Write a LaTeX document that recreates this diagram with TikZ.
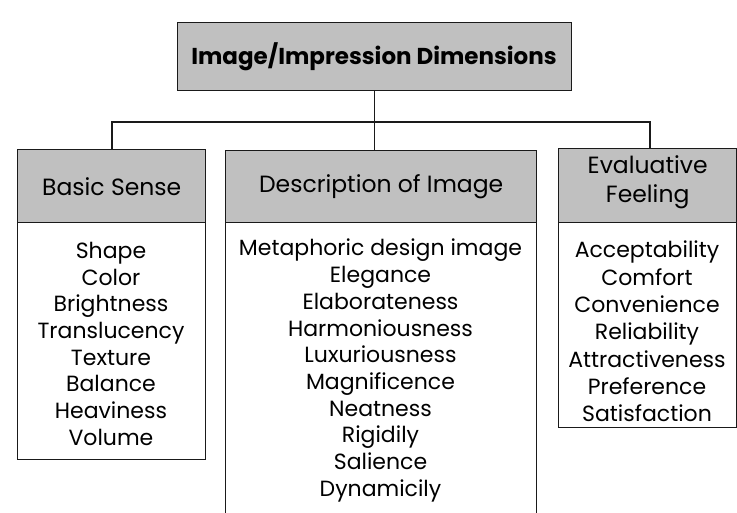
\documentclass[tikz,border=0pt]{standalone}
\usepackage{fontspec}
\setmainfont{Poppins}
\definecolor{hdrgray}{HTML}{C0C0C0}
\definecolor{linecol}{HTML}{1A1A1A}
\begin{document}
\begin{tikzpicture}[x=1pt,y=-1pt,
  box/.style={draw=linecol,line width=1.4pt,rectangle,inner sep=0pt,anchor=north west},
  hdr/.style={box,fill=hdrgray},
  body/.style={box,fill=white},
  hdrtext/.style={font=\fontsize{23.5}{29}\selectfont,align=center,inner sep=0pt},
  bodytext/.style={font=\fontsize{22}{26.7}\selectfont,align=center,inner sep=0pt,anchor=north},
  conn/.style={draw=linecol,line width=1.4pt}]
\useasboundingbox (0,0) rectangle (737,512);
\clip (0,0) rectangle (737,512);
% title
\node[hdr,minimum width=394pt,minimum height=68pt] (title) at (177,22) {};
\node[font=\fontsize{23}{28}\selectfont\bfseries,inner sep=0pt] (titletext) at (374,57) {Image/Impression Dimensions};
% left
\node[hdr,minimum width=188pt,minimum height=73pt] (lefth) at (17,149) {};
\node[body,minimum width=188pt,minimum height=237pt] (leftb) at (17,222) {};
\node[hdrtext] (leftht) at (lefth.center) {Basic Sense};
\node[bodytext] (leftbt) at (111,242) {Shape\\Color\\Brightness\\Translucency\\Texture\\Balance\\Heaviness\\Volume};
% middle
\node[hdr,minimum width=311pt,minimum height=72pt] (midh) at (225,150) {};
\node[body,minimum width=311pt,minimum height=320pt] (midb) at (225,222) {};
\node[hdrtext] (midht) at (midh.center) {Description of Image};
\node[bodytext] (midbt) at (380.5,239) {Metaphoric design image\\Elegance\\Elaborateness\\Harmoniousness\\Luxuriousness\\Magnificence\\Neatness\\Rigidily\\Salience\\Dynamicily};
% right
\node[hdr,minimum width=178pt,minimum height=74pt] (righth) at (558,148) {};
\node[body,minimum width=178pt,minimum height=205pt] (rightb) at (558,222) {};
\node[hdrtext] (rightht) at ([yshift=3pt]righth.center) {Evaluative\\Feeling};
\node[bodytext,font=\fontsize{22}{27.3}\selectfont] (rightbt) at (647,241) {Acceptability\\Comfort\\Convenience\\Reliability\\Attractiveness\\Preference\\Satisfaction};
% connectors
\coordinate (bus) at (374,122);
\draw[conn] (title.south) -- (title.south |- midh.north);
\draw[conn] (lefth.north -| 112,0) -- (112,122) -- (650,122) -- (righth.north -| 650,0);
\end{tikzpicture}
\end{document}
